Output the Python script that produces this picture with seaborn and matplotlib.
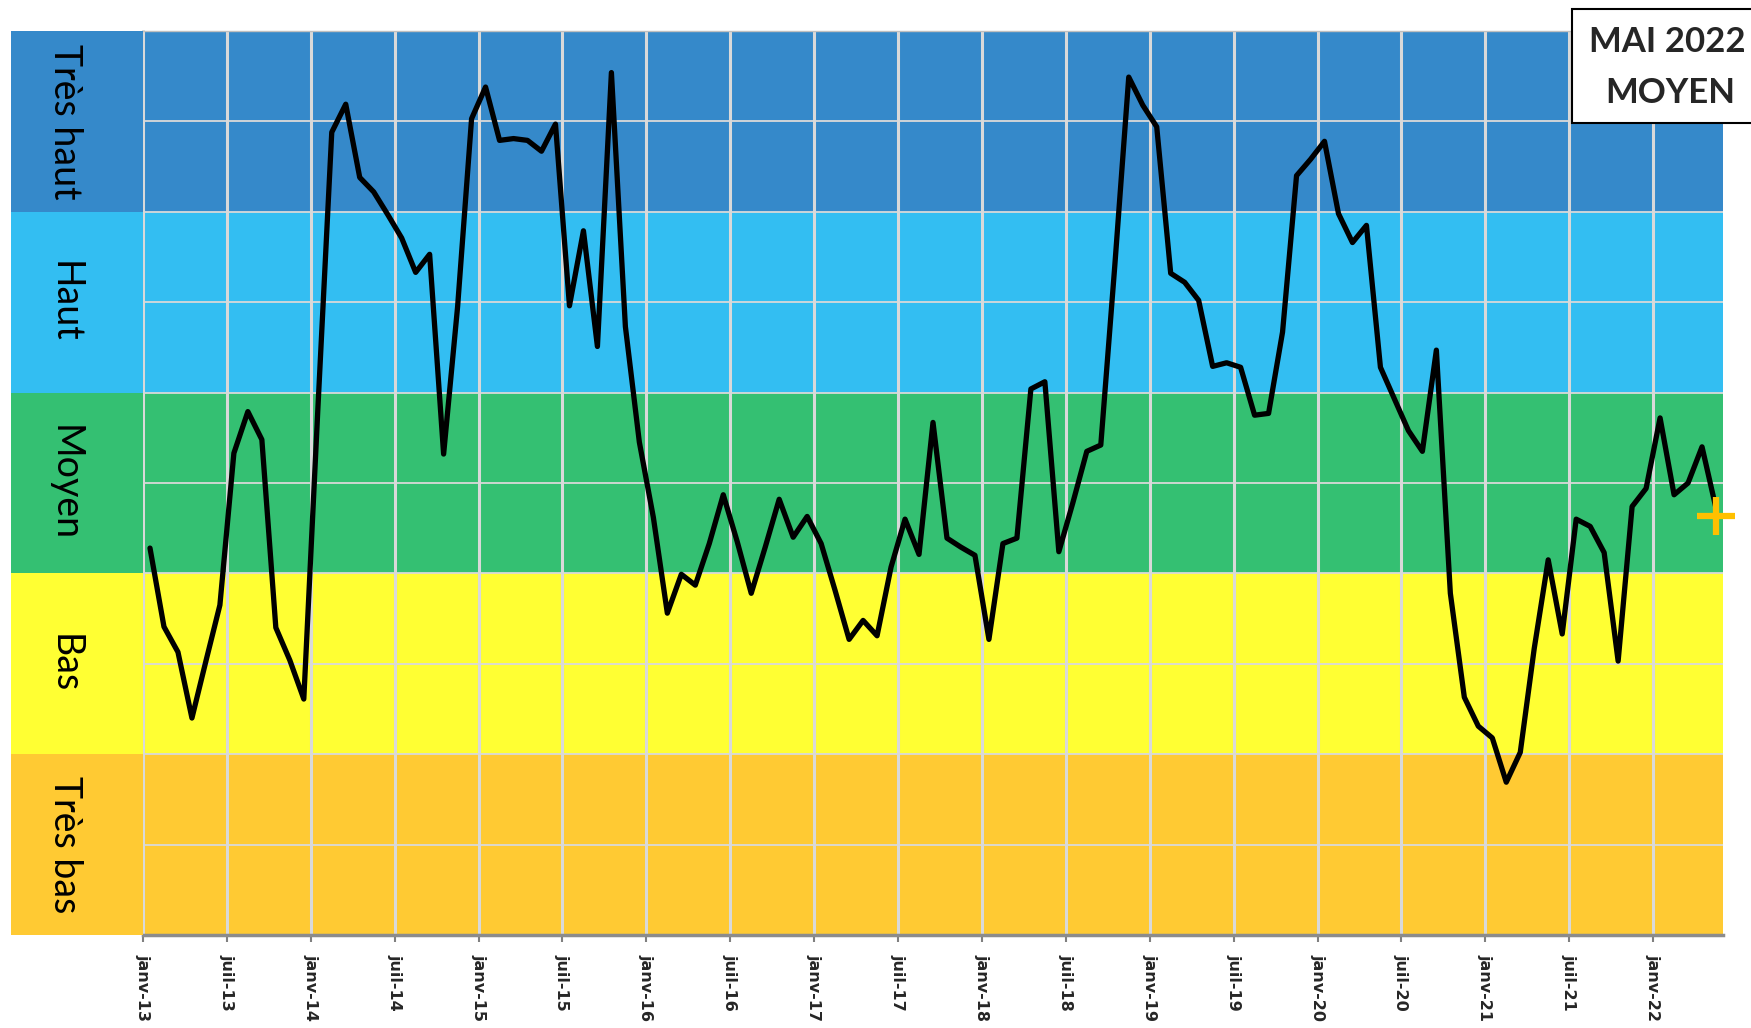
import numpy as np
import pandas as pd
import matplotlib
matplotlib.use("Agg")
import matplotlib.pyplot as plt
import seaborn as sns
from matplotlib.patches import Rectangle

# ---------------- data ----------------
tick_labels = ["janv-13", "juil-13", "janv-14", "juil-14", "janv-15", "juil-15",
               "janv-16", "juil-16", "janv-17", "juil-17", "janv-18", "juil-18",
               "janv-19", "juil-19", "janv-20", "juil-20", "janv-21", "juil-21",
               "janv-22"]
band_names = ["Très bas", "Bas", "Moyen", "Haut", "Très haut"]
band_colors = ["#FFCA33", "#FFFF33", "#34C072", "#33BEF2", "#3589CA"]

# monthly level, janv-13 .. mai-22 (0 = bottom of "Très bas", 10 = top of "Très haut")
values = [
    4.28, 3.41, 3.13, 2.40, 3.03, 3.65, 5.33, 5.79, 5.48, 3.40, 3.04, 2.61,   # 2013
    5.80, 8.88, 9.19, 8.38, 8.22, 7.97, 7.71, 7.33, 7.53, 5.32, 6.95, 9.03,   # 2014
    9.38, 8.79, 8.81, 8.79, 8.67, 8.97, 6.96, 7.79, 6.51, 9.54, 6.73, 5.45,   # 2015
    4.62, 3.56, 3.99, 3.87, 4.33, 4.87, 4.35, 3.78, 4.29, 4.82, 4.40, 4.63,   # 2016
    4.33, 3.81, 3.27, 3.48, 3.31, 4.07, 4.60, 4.21, 5.67, 4.39, 4.29, 4.20,   # 2017
    3.27, 4.33, 4.39, 6.04, 6.12, 4.24, 4.78, 5.35, 5.42, 7.40, 9.49, 9.18,   # 2018
    8.94, 7.32, 7.22, 7.02, 6.29, 6.33, 6.28, 5.75, 5.77, 6.67, 8.40, 8.58,   # 2019
    8.78, 7.98, 7.66, 7.85, 6.28, 5.93, 5.58, 5.35, 6.47, 3.78, 2.63, 2.31,   # 2020
    2.18, 1.69, 2.02, 3.17, 4.15, 3.33, 4.60, 4.52, 4.23, 3.03, 4.74, 4.94,   # 2021
    5.72, 4.87, 5.00, 5.40, 4.72,                                             # 2022
]
title_lines = ["MAI 2022", "MOYEN"]

# ---------------- figure ----------------
sns.set_theme(style="white")
plt.rcParams['font.family'] = ['Lato', 'DejaVu Sans']

W, H = 1751, 1028
fig = plt.figure(figsize=(W / 100, H / 100), dpi=100)
L, R, T, B = 143, 1723, 31, 935
ax = fig.add_axes([L / W, 1 - B / H, (R - L) / W, (B - T) / H])

for k, c in enumerate(band_colors):
    ax.axhspan(2 * k, 2 * k + 2, color=c, lw=0, zorder=0)

n_months = len(values)
df = pd.DataFrame({"mois": np.arange(n_months) + 0.5, "niveau": values})
sns.lineplot(data=df, x="mois", y="niveau", ax=ax, color="black", lw=3.8, zorder=3)
ax.plot(df["mois"].iloc[-1], df["niveau"].iloc[-1] - 0.08, marker='+', color='#FFC000',
        ms=28, mew=4.5, clip_on=False, zorder=4, linestyle='none')

ax.set_xlim(0, n_months)
ax.set_ylim(0, 10)
ax.set_xticks(np.arange(0, n_months, 6))
ax.set_xticklabels(tick_labels, rotation=-90, fontweight='bold', fontsize=11.5,
                   family='DejaVu Sans', va='top', ha='center')
ax.set_yticks(range(11))
ax.set_yticklabels([])
ax.set_axisbelow(True)
ax.xaxis.grid(True, color='#D9D9D9', lw=2.2)
ax.yaxis.grid(True, color='#D9D9D9', lw=1.3)
ax.tick_params(axis='y', length=0)
ax.tick_params(axis='x', length=5, color='#808080', width=1.5, pad=9, direction='out',
               bottom=True)
ax.set_xlabel('')
ax.set_ylabel('')
ax.spines['right'].set_visible(False)
ax.spines['bottom'].set_color('#8C8C8C')
ax.spines['bottom'].set_linewidth(2.5)
ax.spines['left'].set_color('#D9D9D9')
ax.spines['left'].set_linewidth(2)
ax.spines['top'].set_color('#BFBFBF')
ax.spines['top'].set_linewidth(1)

# band label column
ax2 = fig.add_axes([11 / W, 1 - B / H, (L - 11) / W, (B - T) / H])
ax2.set_xlim(0, 1)
ax2.set_ylim(0, 10)
for k, (c, name) in enumerate(zip(band_colors, band_names)):
    ax2.axhspan(2 * k, 2 * k + 2, color=c, lw=0)
    ax2.text(0.41, 2 * k + 1, name, rotation=-90, ha='center', va='center',
             fontsize=27, color='black', rotation_mode='anchor')
ax2.axis('off')

# title box (top right)
fig.add_artist(Rectangle((1572 / W, 1 - 123 / H), 200 / W, 114 / H,
                         transform=fig.transFigure, facecolor='white',
                         edgecolor='black', lw=1.5, zorder=10, clip_on=False))
fig.text(1667 / W, 1 - 42 / H, title_lines[0], ha='center', va='center',
         fontsize=25, fontweight='bold', zorder=11)
fig.text(1670 / W, 1 - 93 / H, title_lines[1], ha='center', va='center',
         fontsize=25, fontweight='bold', zorder=11)

fig.savefig("out.png", dpi=100, facecolor='white')
